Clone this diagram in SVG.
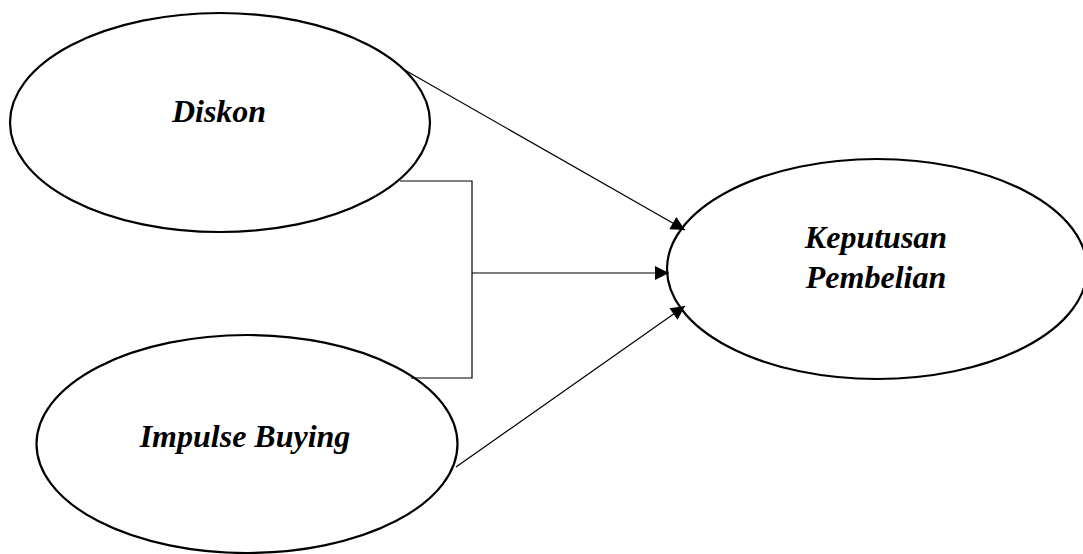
<svg xmlns="http://www.w3.org/2000/svg" width="1083" height="554" viewBox="0 0 1083 554">
<style>
.node{fill:#fff;stroke:#000;stroke-width:2.2}
.lbl{font-family:"Liberation Serif","Times New Roman",serif;font-weight:bold;font-style:italic;font-size:32px;fill:#000;text-anchor:middle}
.con{fill:none;stroke:#000;stroke-width:1.2}
</style>
<defs>
<marker id="arr" viewBox="0 0 10 10" refX="10" refY="5" markerWidth="16" markerHeight="14" markerUnits="userSpaceOnUse" orient="auto">
<path d="M0,0 L10,5 L0,10 Z" fill="#000"/>
</marker>
</defs>
<rect width="1083" height="554" fill="#fff"/>
<g id="diskon">
<ellipse class="node" cx="220" cy="122.5" rx="210" ry="109.5"/>
<text class="lbl" x="219" y="122">Diskon</text>
</g>
<g id="impulse-buying">
<ellipse class="node" cx="247" cy="444" rx="210.5" ry="109"/>
<text class="lbl" x="245" y="447">Impulse Buying</text>
</g>
<g id="keputusan-pembelian">
<ellipse class="node" cx="877" cy="269" rx="210" ry="110"/>
<text class="lbl" x="876" y="248">Keputusan</text>
<text class="lbl" x="876" y="288">Pembelian</text>
</g>
<g id="connectors">
<line class="con" x1="403" y1="69" x2="685" y2="230" marker-end="url(#arr)"/>
<polyline class="con" points="400,181 472,181 472,378 411,378"/>
<line class="con" x1="472" y1="273" x2="669" y2="273" marker-end="url(#arr)"/>
<line class="con" x1="456" y1="467" x2="685" y2="306" marker-end="url(#arr)"/>
</g>
</svg>
